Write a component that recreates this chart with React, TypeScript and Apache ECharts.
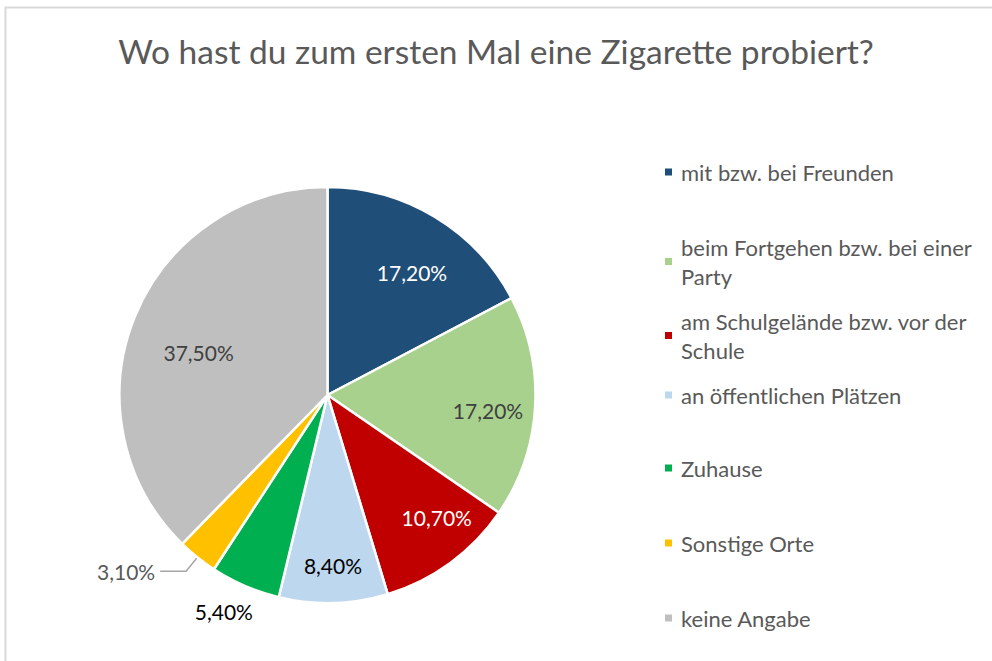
import React, { useEffect, useRef } from "react";
import * as echarts from "echarts";

const TITLE = "Wo hast du zum ersten Mal eine Zigarette probiert?";
const CATEGORIES = [
  "mit bzw. bei Freunden",
  "beim Fortgehen bzw. bei einer Party",
  "am Schulgelände bzw. vor der Schule",
  "an öffentlichen Plätzen",
  "Zuhause",
  "Sonstige Orte",
  "keine Angabe",
];
const LEGEND_LABELS = [
  "mit bzw. bei Freunden",
  "beim Fortgehen bzw. bei einer\nParty",
  "am Schulgelände bzw. vor der\nSchule",
  "an öffentlichen Plätzen",
  "Zuhause",
  "Sonstige Orte",
  "keine Angabe",
];
const VALUES = [17.2, 17.2, 10.7, 8.4, 5.4, 3.1, 37.5];
const VALUE_LABELS = ["17,20%", "17,20%", "10,70%", "8,40%", "5,40%", "3,10%", "37,50%"];

const COLORS = ["#1F4E79", "#A9D18E", "#C00000", "#BDD7EE", "#00B050", "#FFC000", "#BFBFBF"];
const LABEL_COLORS = ["#FFFFFF", "#404040", "#FFFFFF", "#000000", "#000000", "#595959", "#404040"];
// label placement: radius as fraction of pie radius (-1 = outside with leader line), angle shift in degrees
const LABEL_RADIUS_FRAC = [0.717, 0.775, 0.79, 0.82, 1.156, -1, 0.652];
const LABEL_ANGLE_SHIFT = [3.4, 2.0, -5.5, -0.2, 2.2, 0, -4.0];
const LEGEND_FIRST_LINE_Y = [172, 247, 321, 395, 468, 543, 618];

const FONT = "Lato";
const CX = 327.5;
const CY = 395;
const R = 208;

export default function App() {
  const ref = useRef<HTMLDivElement>(null);
  useEffect(() => {
    if (!ref.current) return;
    const chart = echarts.init(ref.current, undefined, { renderer: "svg" });
    const total = VALUES.reduce((a, b) => a + b, 0);
    const mids: number[] = [];
    let acc = 0;
    VALUES.forEach((v) => {
      mids.push(((acc + v / 2) / total) * Math.PI * 2);
      acc += v;
    });
    const lineH = 29;
    const legends = LEGEND_LABELS.map((lab, i) => {
      const multi = lab.includes("\n");
      const top = LEGEND_FIRST_LINE_Y[i] - (multi ? lineH : lineH / 2);
      return {
        orient: "vertical",
        left: 663,
        top,
        padding: 0,
        itemWidth: 9,
        itemHeight: 9,
        icon: "rect",
        data: [CATEGORIES[i]],
        formatter: () => lab,
        textStyle: {
          fontFamily: FONT,
          fontSize: 22,
          color: "#595959",
          lineHeight: lineH,
          padding: multi ? [lineH, 0, 0, 3] : [0, 0, 0, 3],
        },
      };
    });
    chart.setOption({
      animation: false,
      backgroundColor: "#FFFFFF",
      title: {
        text: TITLE,
        left: "center",
        top: 29,
        textStyle: { fontFamily: FONT, fontSize: 33.5, fontWeight: "normal", color: "#595959" },
      },
      legend: legends,
      graphic: [
        {
          type: "rect",
          shape: { x: 5.5, y: 7.5, width: 1100, height: 800 },
          style: { fill: "none", stroke: "#D9D9D9", lineWidth: 2 },
          silent: true,
        },
      ],
      series: [
        {
          type: "pie",
          center: [CX, CY],
          radius: [0, R],
          startAngle: 90,
          clockwise: true,
          avoidLabelOverlap: false,
          itemStyle: { borderColor: "#FFFFFF", borderWidth: 2.5 },
          labelLayout: (p: any) => {
            const i = p.dataIndex;
            const f = LABEL_RADIUS_FRAC[i];
            if (f < 0) return {};
            const a = mids[i] + (LABEL_ANGLE_SHIFT[i] * Math.PI) / 180;
            return {
              x: CX + Math.sin(a) * f * R,
              y: CY - Math.cos(a) * f * R,
              align: "center",
              verticalAlign: "middle",
            };
          },
          data: CATEGORIES.map((name, i) => ({
            name,
            value: VALUES[i],
            itemStyle: { color: COLORS[i] },
            label: {
              show: true,
              position: LABEL_RADIUS_FRAC[i] < 0 ? "outside" : "inside",
              formatter: () => VALUE_LABELS[i],
              color: LABEL_COLORS[i],
              fontFamily: FONT,
              fontSize: 21,
            },
            labelLine: {
              show: LABEL_RADIUS_FRAC[i] < 0,
              length: 18,
              length2: 26,
              lineStyle: { color: "#A6A6A6", width: 1.5 },
            },
          })),
        },
      ],
    });
    return () => chart.dispose();
  }, []);
  return (
    <div
      ref={ref}
      style={{ position: "fixed", left: 0, top: 0, width: 992, height: 661 }}
    />
  );
}
